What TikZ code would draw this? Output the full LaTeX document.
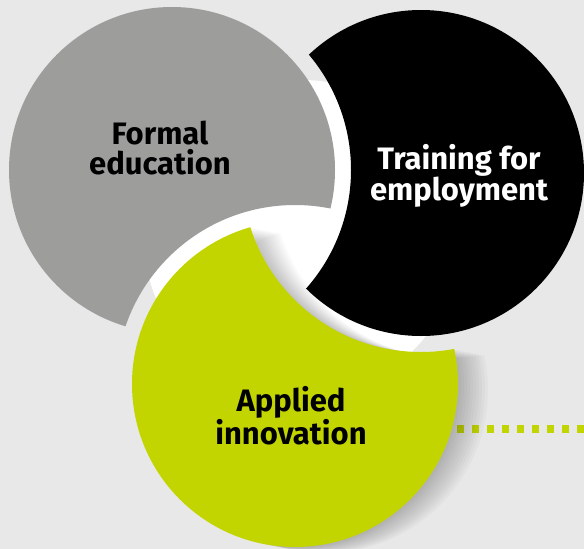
\documentclass[tikz,border=0pt]{standalone}
\usepackage{fontspec}
\setmainfont{Fira Sans}

\definecolor{paper}{HTML}{E8E8E8}
\definecolor{stone}{HTML}{9D9D9C}
\definecolor{lime}{HTML}{C2D500}

\tikzset{
  circletext/.style={font=\bfseries\fontsize{31}{30}\selectfont, align=center, inner sep=0pt},
  cutaway/.style={even odd rule},
  dotline/.style={lime, line width=7.5pt, dash pattern=on 7.3pt off 7.7pt}
}

\begin{document}
\begin{tikzpicture}[x=1pt,y=-1pt]
        \fill[paper] (0,0) rectangle (584,549);
        \useasboundingbox (0,0) rectangle (584,549);
        \coordinate (fe) at (172,170);
        \coordinate (te) at (421,173);
        \coordinate (ai) at (295,384);
        \coordinate (mid) at (302,238);
        \coordinate (dots) at (457,429);
        \coordinate (edge) at (584,429);
        \fill[white] (mid) circle (158pt);
        \draw[dotline] (dots) -- (edge);
        \foreach \s in {1,...,10} {
          \begin{scope}[cutaway]
            \clip (-50,-50) rectangle (650,600) ([shift={(3*\s,0.6*\s)}]te) circle (179pt);
            \fill[black, opacity=0.022] ([shift={(3*\s,0.6*\s)}]ai) circle (163pt);
          \end{scope}
        }
        \begin{scope}[cutaway]
          \clip (-50,-50) rectangle (650,600) (ai) circle (179pt);
          \fill[stone] (fe) circle (163pt);
        \end{scope}
        \begin{scope}[cutaway]
          \clip (-50,-50) rectangle (650,600) (fe) circle (179pt);
          \fill[black] (te) circle (163pt);
        \end{scope}
        \begin{scope}[cutaway]
          \clip (-50,-50) rectangle (650,600) (te) circle (179pt);
          \fill[lime] (ai) circle (163pt);
        \end{scope}
        \node[circletext] (fetext) at (160,148) {Formal\\education};
        \node[circletext, white] (tetext) at (459,176) {Training for\\employment};
        \node[circletext] (aitext) at (291,416) {Applied\\innovation};
\end{tikzpicture}
\end{document}
